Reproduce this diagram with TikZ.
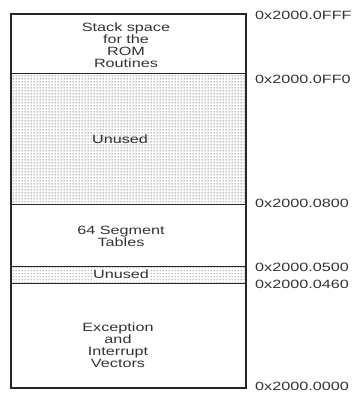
\documentclass[tikz,border=0pt]{standalone}
\usepackage{fontspec}
\setmainfont{Liberation Sans}[FakeStretch=1.35]
\usetikzlibrary{patterns.meta}
\tikzdeclarepattern{
  name=memdots,
  type=uncolored,
  bounding box={(0pt,0pt) and (3pt,3pt)},
  tile size={(3pt,3pt)},
  code={\fill (1.5pt,1.5pt) circle[radius=0.7pt];}
}
\begin{document}
\begin{tikzpicture}[x=1pt, y=-1pt,
  region/.style={font=\fontsize{12}{12}\selectfont, align=center, text=black!80},
  addr/.style={font=\fontsize{12}{12}\selectfont, anchor=west, text=black!80, inner sep=0pt},
  unused/.style={pattern=memdots, pattern color=black!70}]
\useasboundingbox (0,0) rectangle (353,398);
% Unused areas (dotted)
\fill[unused] (11,74) rectangle (246,204);
\fill[unused] (11,266) rectangle (246,283);
% Memory map
\draw[line width=1.2pt, black!85] (11,14) rectangle (246,388);
\draw[line width=1pt, black!85] (11,74) -- (246,74);
\draw[line width=1pt, black!85] (11,204) -- (246,204);
\draw[line width=1pt, black!85] (11,266) -- (246,266);
\draw[line width=1pt, black!85] (11,283) -- (246,283);
% Regions
\node[region] (stack) at (126,45) {Stack space\\for the\\ROM\\Routines};
\node[region] (unusedtop) at (120,139) {Unused};
\node[region] (segtab) at (121,236) {64 Segment\\Tables};
\node[region, fill=white, inner sep=1pt] (unusedbar) at (121,274.5) {Unused};
\node[region] (vectors) at (118,345) {Exception\\and\\Interrupt\\Vectors};
% Addresses
\node[addr] (a0fff) at (255,15) {0x2000.0FFF};
\node[addr] (a0ff0) at (255,79) {0x2000.0FF0};
\node[addr] (a0800) at (255,203) {0x2000.0800};
\node[addr] (a0500) at (255,267) {0x2000.0500};
\node[addr] (a0460) at (255,284) {0x2000.0460};
\node[addr] (a0000) at (255,386) {0x2000.0000};
\end{tikzpicture}
\end{document}
